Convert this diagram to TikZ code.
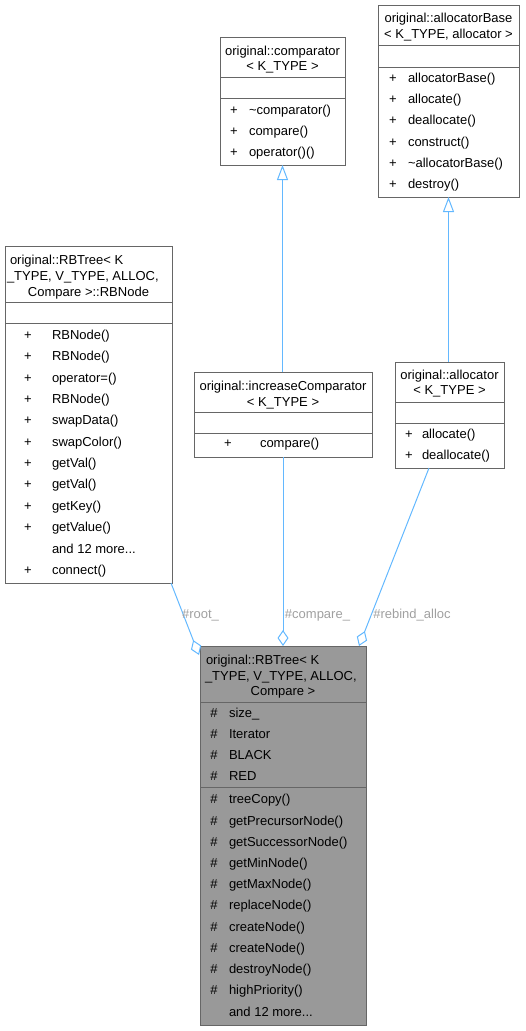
\documentclass[tikz,border=0pt]{standalone}
\usepackage{fontspec}
\setmainfont{Liberation Sans}
\usetikzlibrary{arrows.meta,calc}
\definecolor{edgeblue}{HTML}{63B8FF}
\definecolor{bordergray}{HTML}{666666}
\definecolor{mainfill}{HTML}{999999}
\definecolor{lblgray}{HTML}{A0A0A0}
\newcommand{\fs}{\fontsize{13}{15}\selectfont}
\newcommand{\andmore}{and 12 more...}
\begin{document}
\begin{tikzpicture}[x=1pt,y=-1pt,
  cls/.style={draw=bordergray,line width=1pt,fill=white,inner sep=0,outer sep=0,anchor=north west},
  maincls/.style={cls,fill=mainfill},
  sepline/.style={draw=bordergray,line width=1pt},
  tx/.style={inner sep=0,outer sep=0,font=\fs,anchor=base west},
  tc/.style={tx,anchor=base},
  elabel/.style={inner sep=0,outer sep=0,font=\fs,text=lblgray,anchor=base},
  inh/.style={draw=edgeblue,line width=1pt,-{Triangle[open,length=15pt,width=11pt]}},
  agg/.style={draw=edgeblue,line width=1pt,-{Diamond[open,length=16pt,width=11pt]}},
]
\useasboundingbox (0,0) rectangle (526,1031);

% ---------- comparator ----------
\node[cls,minimum width=125pt,minimum height=128pt] (cmp) at (220,37) {};
\draw[sepline] (220,77) -- (345,77);
\draw[sepline] (220,98) -- (345,98);
\node[tc] (cmpT1) at (282.5,55) {original::comparator};
\node[tc] (cmpT2) at (282.5,70) {< K\_TYPE >};
\foreach \t [count=\i] in {\textasciitilde comparator(),compare(),operator()()} {
  \node[tc] (cmpS\i) at (234,{114.5+21.2*(\i-1)}) {+};
  \node[tx] (cmpM\i) at (249,{114.5+21.2*(\i-1)}) {\t};
}

% ---------- allocatorBase ----------
\node[cls,minimum width=141pt,minimum height=192pt] (alb) at (378,5) {};
\draw[sepline] (378,45) -- (519,45);
\draw[sepline] (378,67) -- (519,67);
\node[tc] (albT1) at (448.5,22.5) {original::allocatorBase};
\node[tc] (albT2) at (448.5,38.5) {< K\_TYPE, allocator >};
\foreach \t [count=\i] in {allocatorBase(),allocate(),deallocate(),construct(),\textasciitilde allocatorBase(),destroy()} {
  \node[tc] (albS\i) at (393,{82.5+21.2*(\i-1)}) {+};
  \node[tx] (albM\i) at (408,{82.5+21.2*(\i-1)}) {\t};
}

% ---------- RBNode ----------
\node[cls,minimum width=167pt,minimum height=337pt] (rbn) at (5,246) {};
\draw[sepline] (5,302) -- (172,302);
\draw[sepline] (5,323) -- (172,323);
\node[tx] (rbnT1) at (10,264.5) {original::RBTree< K};
\node[tx] (rbnT2) at (7,280.5) {\_TYPE, V\_TYPE, ALLOC,};
\node[tc] (rbnT3) at (88.5,296.5) {Compare >::RBNode};
\foreach \s/\t [count=\i] in {+/RBNode(),+/RBNode(),+/operator=(),+/RBNode(),+/swapData(),+/swapColor(),+/getVal(),+/getVal(),+/getKey(),+/getValue(),{}/\andmore,+/connect()} {
  \node[tc] (rbnS\i) at (28,{339.5+21.35*(\i-1)}) {\s};
  \node[tx] (rbnM\i) at (52,{339.5+21.35*(\i-1)}) {\t};
}

% ---------- increaseComparator ----------
\node[cls,minimum width=178pt,minimum height=85pt] (inc) at (194,372) {};
\draw[sepline] (194,412) -- (372,412);
\draw[sepline] (194,433) -- (372,433);
\node[tc] (incT1) at (283,390.5) {original::increaseComparator};
\node[tc] (incT2) at (283,406.5) {< K\_TYPE >};
\node[tc] (incS1) at (228,447.5) {+};
\node[tx] (incM1) at (260,447.5) {compare()};

% ---------- allocator ----------
\node[cls,minimum width=109pt,minimum height=106pt] (alc) at (395,362) {};
\draw[sepline] (395,402) -- (504,402);
\draw[sepline] (395,423) -- (504,423);
\node[tc] (alcT1) at (449.5,379.5) {original::allocator};
\node[tc] (alcT2) at (449.5,394.5) {< K\_TYPE >};
\node[tc] (alcS1) at (409,438.5) {+};
\node[tx] (alcM1) at (422,438.5) {allocate()};
\node[tc] (alcS2) at (409,459.5) {+};
\node[tx] (alcM2) at (422,459.5) {deallocate()};

% ---------- RBTree (main) ----------
\node[maincls,minimum width=166pt,minimum height=379pt] (tree) at (200,646) {};
\draw[sepline] (200,702) -- (366,702);
\draw[sepline] (200,787) -- (366,787);
\node[tx] (treeT1) at (206,664.5) {original::RBTree< K};
\node[tx] (treeT2) at (205,680) {\_TYPE, V\_TYPE, ALLOC,};
\node[tc] (treeT3) at (283,695.5) {Compare >};
\foreach \t [count=\i] in {size\_,Iterator,BLACK,RED} {
  \node[tc] (treeAS\i) at (214,{717.8+20.9*(\i-1)}) {\#};
  \node[tx] (treeA\i) at (229,{717.8+20.9*(\i-1)}) {\t};
}
\foreach \s/\t [count=\i] in {\#/treeCopy(),\#/getPrecursorNode(),\#/getSuccessorNode(),\#/getMinNode(),\#/getMaxNode(),\#/replaceNode(),\#/createNode(),\#/createNode(),\#/destroyNode(),\#/highPriority(),{}/\andmore} {
  \node[tc] (treeMS\i) at (214,{803.8+21.23*(\i-1)}) {\s};
  \node[tx] (treeM\i) at (229,{803.8+21.23*(\i-1)}) {\t};
}

% ---------- connectors ----------
\draw[inh] (inc.north -| cmp.south) -- (cmp.south);
\draw[inh] (alc.north -| alb.south) -- (alb.south);
\draw[agg] ($(rbn.south east)+(-1,0)$) -- ($(tree.north west)+(-1,9)$);
\draw[agg] (inc.south) -- (inc.south |- tree.north);
\draw[agg] ($(alc.south)+(-20.5,0)$) -- ($(tree.north east)+(-7,0)$);

\node[elabel] (lroot) at (200.5,618.5) {\#root\_};
\node[elabel] (lcmp) at (317.5,618.5) {\#compare\_};
\node[elabel] (lalloc) at (412,618.5) {\#rebind\_alloc};
\end{tikzpicture}
\end{document}
